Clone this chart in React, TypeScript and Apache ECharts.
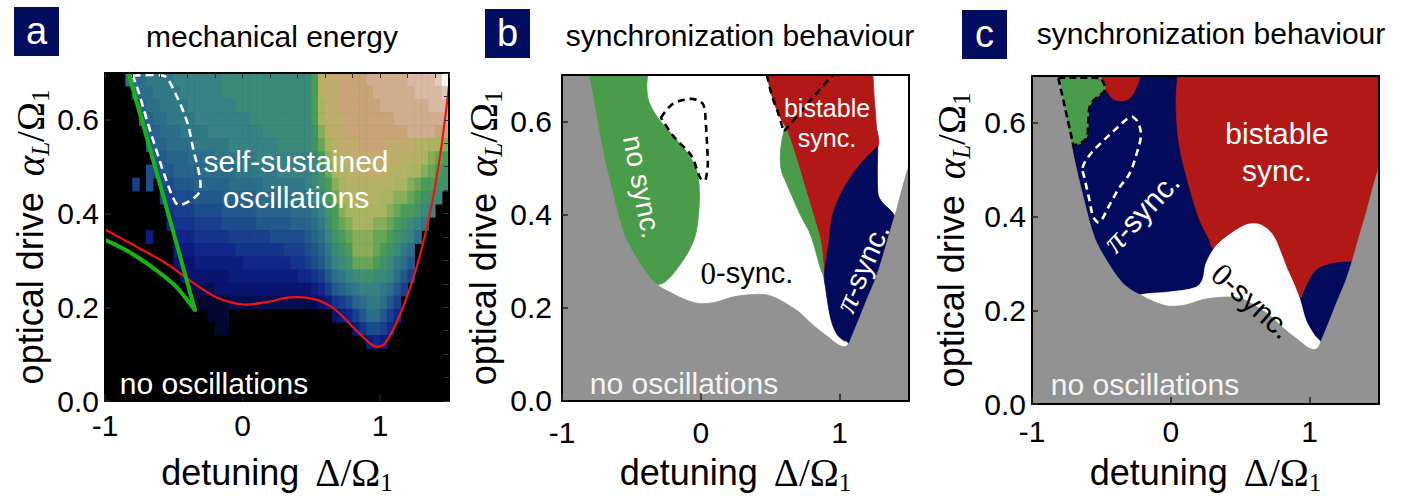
import React, { useEffect, useRef } from 'react';
import * as echarts from 'echarts';

const SANS = "'Liberation Sans', Arial, Helvetica, sans-serif";
const SERIF = "'Liberation Serif', 'DejaVu Serif', 'Times New Roman', serif";

const NAVY = '#020b5b';
const RED = '#b21815';
const GREEN = '#4b9c4a';
const GRAY = '#929292';

// ---------------- axes ----------------
const xTickValues = [-1, 0, 1];
const yTickValues = [0, 0.2, 0.4, 0.6];
const X_MIN = -1, X_MAX = 1.5, Y_MIN = 0, Y_MAX = 0.7;

// ---------------- panel a: mechanical energy (run-length rows, top row first) ----------------
const ENERGY_LEVELS = 'abcdefghijklmnopqrstuvwxyz';
const energyCellW = 0.05;
const energyCellH = 0.028;
const energyRowsRLE = [
  '.3 k3 l4 m7 n13 p t u2 v4 w6 x4 y z',
  '.4 k3 l4 m6 n13 p t u2 v5 w6 x4 y',
  '.5 j k2 l4 m7 n11 p s u2 v6 w7 x3',
  '.5 j2 k2 l4 m8 n9 p s u3 v7 w8',
  '.6 j2 k3 l4 m8 n7 o r t u2 v9 w4 v2',
  '.6 i j2 k4 l5 m7 n5 o q s t u3 v4 u4 t2 s2 r',
  '.7 i2 j3 k4 l6 m8 n p r t2 u8 t3 s r q p',
  '.6 h2 i2 j4 k5 l6 m5 n o q s t2 u5 t3 s2 r q p o',
  '.4 g . h . h2 i3 j5 k5 l6 m n o p r s t7 s2 r q p2 o2',
  '.8 g2 h3 i4 j5 k5 l3 m n p q s2 t4 s2 r2 q p o2 n .',
  '.9 f g3 h4 i5 j5 k3 l m o p r s6 r q p2 o n m .2',
  '.9 e f3 g4 h5 i5 j3 k l n p q r s3 r2 q p o n m l .3',
  '.6 d .3 e3 f5 g6 h5 i j k m o p q r3 q2 p o n m k .4',
  '.10 d3 e6 f7 g3 h i j l n o p r3 q p o n l k .5',
  '.10 c3 d7 e7 f2 g h i k m n o q3 p o n l k i .5',
  '.11 c7 d10 e2 f g i k l m n o2 n2 m k i g .5',
  '.12 b4 c14 d e g i j k l m3 l k i g .6',
  '.13 a5 b13 c d f g h j k l2 k i g .7',
  '.15 a3 .15 c d e g i k2 i g e .7',
  '.16 a2 .18 d f h2 g e .8',
  '.38 d e d .9',
];

const redOnsetCurveA = [
  [-1, 0.366], [-0.794, 0.333], [-0.552, 0.293], [-0.358, 0.252], [-0.188, 0.221],
  [0.005, 0.206], [0.175, 0.211], [0.344, 0.221], [0.514, 0.218], [0.659, 0.198],
  [0.805, 0.157], [0.926, 0.123], [0.974, 0.116], [1.035, 0.123], [1.144, 0.184],
  [1.265, 0.286], [1.362, 0.401], [1.435, 0.523], [1.5, 0.672],
];
const greenCurveA = [
  [-0.83, 0.70], [-0.59, 0.452], [-0.346, 0.194], [-0.42, 0.222], [-0.504, 0.25],
  [-0.673, 0.289], [-0.842, 0.321], [-1, 0.344],
];
const whiteLoopA = [
  [-0.80, 0.694], [-0.576, 0.694], [-0.528, 0.68], [-0.406, 0.598], [-0.358, 0.537],
  [-0.31, 0.476], [-0.31, 0.449], [-0.346, 0.435], [-0.455, 0.418], [-0.49, 0.425],
  [-0.552, 0.469], [-0.673, 0.578], [-0.77, 0.673],
];

// ---------------- panels b, c: onset of oscillations ----------------
const onsetBoundary = [
  [-0.805, 0.70], [-0.75, 0.608], [-0.70, 0.528], [-0.63, 0.44], [-0.55, 0.355],
  [-0.46, 0.305], [-0.36, 0.262], [-0.28, 0.242], [-0.215, 0.232], [-0.12, 0.218],
  [-0.02, 0.209], [0.08, 0.21], [0.15, 0.215], [0.22, 0.222], [0.30, 0.226],
  [0.38, 0.228], [0.46, 0.228], [0.53, 0.222], [0.59, 0.213], [0.65, 0.202],
  [0.71, 0.19], [0.78, 0.17], [0.85, 0.152], [0.93, 0.134], [0.98, 0.122],
  [1.03, 0.116], [1.06, 0.12], [1.08, 0.132], [1.14, 0.175], [1.20, 0.22],
  [1.26, 0.262], [1.31, 0.308], [1.36, 0.36], [1.41, 0.41], [1.45, 0.455], [1.5, 0.506],
];
const noOscRegion = [[-1, 0], [-1, 0.7], ...onsetBoundary, [1.5, 0]];

// panel b
const greenLeftB = [
  [-0.95, 0.70], [-0.382, 0.70], [-0.389, 0.675], [-0.374, 0.643], [-0.309, 0.608],
  [-0.193, 0.567], [-0.084, 0.527], [-0.025, 0.49], [-0.01, 0.44], [-0.02, 0.39],
  [-0.04, 0.355], [-0.093, 0.318], [-0.19, 0.276], [-0.25, 0.257], [-0.30, 0.25],
  [-0.36, 0.252], [-0.50, 0.29], [-0.95, 0.50],
];
const redB = [
  [0.476, 0.70], [1.24, 0.70], [1.252, 0.642], [1.265, 0.59], [1.276, 0.547],
  [1.143, 0.506], [1.022, 0.452], [0.949, 0.398], [0.925, 0.344], [0.889, 0.266],
  [0.862, 0.344], [0.804, 0.405], [0.743, 0.466], [0.682, 0.527], [0.61, 0.588],
  [0.561, 0.615], [0.513, 0.655],
];
const greenRightB = [
  [0.61, 0.591], [0.585, 0.561], [0.573, 0.527], [0.58, 0.495], [0.61, 0.472],
  [0.658, 0.439], [0.719, 0.398], [0.78, 0.364], [0.816, 0.334], [0.857, 0.289],
  [0.889, 0.266], [0.862, 0.344], [0.804, 0.405], [0.743, 0.466], [0.682, 0.527],
];
const navyB = [
  [1.276, 0.547], [1.276, 0.445], [1.31, 0.425], [1.361, 0.411], [1.42, 0.39],
  [1.46, 0.38], [1.46, 0.10], [1.10, 0.10], [1.07, 0.118], [1.055, 0.127],
  [1.03, 0.129], [0.98, 0.143], [0.94, 0.172], [0.915, 0.21], [0.898, 0.245],
  [0.889, 0.266], [0.925, 0.344], [0.949, 0.398], [1.022, 0.452], [1.143, 0.506],
];
const dashLoopB = [
  [-0.287, 0.608], [-0.214, 0.635], [-0.12, 0.647], [-0.03, 0.647], [0.02, 0.635],
  [0.035, 0.60], [0.045, 0.55], [0.05, 0.505], [0.035, 0.474], [0.005, 0.475],
  [-0.02, 0.49], [-0.069, 0.527], [-0.193, 0.567],
];
const dashVB = [
  [0.476, 0.70], [0.513, 0.655], [0.561, 0.615], [0.598, 0.578], [0.70, 0.614],
  [0.82, 0.656], [0.949, 0.70],
];

// panel c
const redBigC = [
  [0.05, 0.70], [1.5, 0.70], [1.5, 0.25], [1.2, 0.25], [1.0, 0.2], [0.931, 0.222],
  [0.80, 0.26], [0.50, 0.30], [0.31, 0.33], [0.277, 0.351], [0.205, 0.395],
  [0.133, 0.464], [0.062, 0.552], [0.038, 0.641],
];
const navyBlobC = [
  [0.90, 0.215], [0.931, 0.222], [0.979, 0.252], [1.051, 0.286], [1.171, 0.30],
  [1.303, 0.303], [1.45, 0.303], [1.45, 0.05], [0.90, 0.05],
];
const zeroSyncC = [
  [-0.30, 0.225], [-0.20, 0.234], [-0.011, 0.239], [0.182, 0.249], [0.23, 0.266],
  [0.254, 0.30], [0.326, 0.337], [0.421, 0.361], [0.50, 0.376], [0.566, 0.384],
  [0.65, 0.382], [0.734, 0.361], [0.806, 0.313], [0.835, 0.29], [0.878, 0.262],
  [0.931, 0.222], [0.974, 0.178], [1.039, 0.145], [1.075, 0.134], [1.10, 0.12],
  [1.10, 0.05], [-0.30, 0.05],
];
const redSmallC = [
  [-0.50, 0.70], [-0.492, 0.686], [-0.462, 0.668], [-0.43, 0.655], [-0.40, 0.649],
  [-0.342, 0.647], [-0.30, 0.652], [-0.265, 0.665], [-0.24, 0.682], [-0.217, 0.70],
];
const greenC = [
  [-0.95, 0.70], [-0.522, 0.70], [-0.498, 0.695], [-0.474, 0.671], [-0.534, 0.654],
  [-0.582, 0.637], [-0.594, 0.607], [-0.606, 0.569], [-0.654, 0.556], [-0.702, 0.552],
  [-0.95, 0.552],
];
const dashGreenC = [
  [-0.81, 0.696], [-0.522, 0.696], [-0.498, 0.693], [-0.474, 0.671], [-0.534, 0.654],
  [-0.582, 0.637], [-0.594, 0.607], [-0.606, 0.569], [-0.654, 0.556], [-0.702, 0.552],
];
const whiteLoopC = [
  [-0.635, 0.504], [-0.60, 0.525], [-0.534, 0.548], [-0.414, 0.582], [-0.32, 0.607],
  [-0.275, 0.613], [-0.24, 0.603], [-0.215, 0.575], [-0.25, 0.53], [-0.30, 0.49],
  [-0.37, 0.462], [-0.45, 0.42], [-0.505, 0.39], [-0.53, 0.388], [-0.56, 0.40],
  [-0.59, 0.44], [-0.62, 0.48],
];

// ---------------- derived heatmap data ----------------
function decodeRow(rle: string): string {
  return rle.split(' ').map((tok) => tok[0].repeat(tok.length > 1 ? parseInt(tok.slice(1), 10) : 1)).join('');
}
const heatData: number[][] = [];
energyRowsRLE.forEach((rle, r) => {
  const row = decodeRow(rle);
  const j = 24 - r;
  for (let i = 0; i < row.length; i++) {
    const k = ENERGY_LEVELS.indexOf(row[i]);
    if (k < 0) continue;
    heatData.push([X_MIN + energyCellW * (i + 0.5), energyCellH * (j + 0.5), k / 25]);
  }
});

const ENERGY_STOPS: [number, string][] = [
  [0, '#020830'], [0.08, '#0a1470'], [0.16, '#10268a'], [0.24, '#183f8c'], [0.32, '#22588c'],
  [0.40, '#2c6e8a'], [0.48, '#368284'], [0.54, '#3c8c74'], [0.60, '#4a9a58'], [0.66, '#78aa58'],
  [0.72, '#a8b460'], [0.78, '#bcb068'], [0.84, '#c8a478'], [0.90, '#d4b29a'], [0.96, '#e4c8bc'],
  [1, '#fbf6f6'],
];
function hex(c: string) { return [1, 3, 5].map((k) => parseInt(c.slice(k, k + 2), 16)); }
function energyColor(v: number) {
  for (let s = 1; s < ENERGY_STOPS.length; s++) {
    if (v <= ENERGY_STOPS[s][0] + 1e-9) {
      const [v0, c0] = ENERGY_STOPS[s - 1];
      const [v1, c1] = ENERGY_STOPS[s];
      const t = (v - v0) / (v1 - v0);
      const a = hex(c0), b = hex(c1);
      return `rgb(${a.map((x, q) => Math.round(x + (b[q] - x) * t)).join(',')})`;
    }
  }
  return ENERGY_STOPS[ENERGY_STOPS.length - 1][1];
}

// ---------------- rendering helpers ----------------
function buildPath(px: number[][], closed: boolean, rect: any): string {
  const n = px.length;
  const onFrame = (p: number[]) =>
    Math.abs(p[0] - rect.x) < 0.7 || Math.abs(p[0] - (rect.x + rect.width)) < 0.7 ||
    Math.abs(p[1] - rect.y) < 0.7 || Math.abs(p[1] - (rect.y + rect.height)) < 0.7;
  const tan: number[][] = [];
  for (let i = 0; i < n; i++) {
    if (!closed && (i === 0 || i === n - 1)) { tan.push([0, 0]); continue; }
    const p0 = px[(i - 1 + n) % n], p1 = px[i], p2 = px[(i + 1) % n];
    const a = [p1[0] - p0[0], p1[1] - p0[1]], b = [p2[0] - p1[0], p2[1] - p1[1]];
    const la = Math.hypot(a[0], a[1]), lb = Math.hypot(b[0], b[1]);
    let sharp = onFrame(p1) || la < 1e-6 || lb < 1e-6;
    if (!sharp) {
      const cos = (a[0] * b[0] + a[1] * b[1]) / (la * lb);
      if (cos < Math.cos((68 * Math.PI) / 180)) sharp = true;
    }
    if (sharp) tan.push([0, 0]);
    else {
      const dx = p2[0] - p0[0], dy = p2[1] - p0[1];
      const l = Math.hypot(dx, dy) || 1;
      tan.push([dx / l, dy / l]);
    }
  }
  let d = `M${px[0][0]},${px[0][1]}`;
  const segs = closed ? n : n - 1;
  for (let i = 0; i < segs; i++) {
    const p1 = px[i], p2 = px[(i + 1) % n];
    const L = Math.hypot(p2[0] - p1[0], p2[1] - p1[1]) / 3;
    const t1 = tan[i], t2 = tan[(i + 1) % n];
    d += ` C${p1[0] + t1[0] * L},${p1[1] + t1[1] * L} ${p2[0] - t2[0] * L},${p2[1] - t2[1] * L} ${p2[0]},${p2[1]}`;
  }
  if (closed) d += ' Z';
  return d;
}

function shapeSeries(gi: number, pts: number[][], o: any, z: number) {
  return {
    type: 'custom', xAxisIndex: gi, yAxisIndex: gi, z, clip: true, silent: true,
    data: pts,
    renderItem: (params: any, api: any) => {
      if (params.dataIndex !== 0) return null;
      const px = pts.map((p) => api.coord(p));
      const d = buildPath(px, o.closed, params.coordSys);
      return {
        type: 'path',
        shape: { pathData: d },
        style: {
          fill: o.fill || 'none',
          stroke: o.stroke || (o.fill ? o.fill : 'none'),
          lineWidth: o.lineWidth != null ? o.lineWidth : (o.fill ? 0.8 : 0),
          lineDash: o.dash || null,
          lineJoin: 'round',
          lineCap: 'butt',
        },
      };
    },
  };
}

const panels = [
  { left: 105, top: 73, width: 344, height: 344, bg: '#000', yLabelMargin: 6, xLabelMargin: 9, xNameGap: 48, yNameGap: 46 },
  { left: 562, top: 75, width: 347, height: 344, bg: '#fff', yLabelMargin: 10, xLabelMargin: 17, xNameGap: 46, yNameGap: 56 },
  { left: 1032, top: 76, width: 347, height: 344, bg: NAVY, yLabelMargin: 6, xLabelMargin: 12, xNameGap: 45, yNameGap: 58 },
];

const nameRich = {
  tp: { fontSize: 36, fontFamily: SANS, color: '#000', lineHeight: 46, padding: [0, 16, 0, 0] },
  mi: { fontSize: 39, fontFamily: SERIF, fontStyle: 'italic', color: '#000', lineHeight: 46 },
  m: { fontSize: 39, fontFamily: SERIF, color: '#000', lineHeight: 46 },
  si: { fontSize: 25, fontFamily: SERIF, fontStyle: 'italic', color: '#000', verticalAlign: 'bottom', lineHeight: 46 },
  s: { fontSize: 25, fontFamily: SERIF, color: '#000', verticalAlign: 'bottom', lineHeight: 46 },
};

function buildOption() {
  const grid = panels.map((p) => ({
    left: p.left, top: p.top, width: p.width, height: p.height,
    show: true, backgroundColor: p.bg, borderWidth: 0,
  }));
  const xAxis: any[] = [];
  const yAxis: any[] = [];
  panels.forEach((p, gi) => {
    xAxis.push({
      type: 'value', gridIndex: gi, position: 'bottom', min: X_MIN, max: X_MAX, interval: 1, z: 10,
      axisLine: { show: true, onZero: false, lineStyle: { color: '#000', width: 2 } },
      axisTick: { show: true, inside: true, length: 7, lineStyle: { color: '#222', width: 1.5 } },
      axisLabel: {
        show: true, margin: p.xLabelMargin, fontSize: 30, fontFamily: SANS, color: '#000', showMaxLabel: false,
        formatter: (v: number) => (xTickValues.some((t) => Math.abs(t - v) < 1e-9) ? String(Math.round(v)) : ''),
      },
      splitLine: { show: false },
      name: '{tp|detuning}{m|Δ/Ω}{s|1}', nameLocation: 'middle', nameGap: p.xNameGap,
      nameTextStyle: { fontSize: 36, fontFamily: SANS, color: '#000', rich: nameRich },
    });
    yAxis.push({
      type: 'value', gridIndex: gi, position: 'left', min: Y_MIN, max: Y_MAX, interval: 0.2, z: 10,
      axisLine: { show: true, onZero: false, lineStyle: { color: '#000', width: 2 } },
      axisTick: { show: true, inside: true, length: 6, lineStyle: { color: '#222', width: 1.5 } },
      axisLabel: {
        show: true, margin: p.yLabelMargin, fontSize: 30, fontFamily: SANS, color: '#000', showMaxLabel: false,
        formatter: (v: number) => (yTickValues.some((t) => Math.abs(t - v) < 1e-9) ? v.toFixed(1) : ''),
      },
      splitLine: { show: false },
      name: '{tp|optical drive}{mi|α}{si|L}{m|/Ω}{s|1}', nameLocation: 'middle', nameRotate: 90, nameGap: p.yNameGap,
      nameTextStyle: { fontSize: 36, fontFamily: SANS, color: '#000', rich: nameRich },
    });
  });
  panels.forEach((p, gi) => {
    xAxis.push({
      type: 'value', gridIndex: gi, position: 'top', min: X_MIN, max: X_MAX, interval: gi === 0 ? 0.2 : 1, z: 10,
      axisLine: { show: true, onZero: false, lineStyle: { color: '#000', width: 2 } },
      axisTick: { show: gi === 0, inside: true, length: 5, lineStyle: { color: '#333', width: 1 } },
      axisLabel: { show: false }, splitLine: { show: false },
    });
    yAxis.push({
      type: 'value', gridIndex: gi, position: 'right', min: Y_MIN, max: Y_MAX, interval: gi === 0 ? 0.05 : 0.2, z: 10,
      axisLine: { show: true, onZero: false, lineStyle: { color: '#000', width: 2 } },
      axisTick: { show: gi === 0, inside: true, length: 5, lineStyle: { color: '#333', width: 1 } },
      axisLabel: { show: false }, splitLine: { show: false },
    });
  });

  const series: any[] = [];
  // panel a heatmap
  series.push({
    type: 'custom', xAxisIndex: 0, yAxisIndex: 0, z: 1, clip: true, silent: true,
    data: heatData,
    renderItem: (params: any, api: any) => {
      const x = api.value(0), y = api.value(1), v = api.value(2);
      const p0 = api.coord([x - energyCellW / 2, y + energyCellH / 2]);
      const p1 = api.coord([x + energyCellW / 2, y - energyCellH / 2]);
      return {
        type: 'rect',
        shape: { x: p0[0] - 0.3, y: p0[1] - 0.3, width: p1[0] - p0[0] + 0.6, height: p1[1] - p0[1] + 0.6 },
        style: { fill: energyColor(v) },
      };
    },
  });
  series.push(shapeSeries(0, whiteLoopA, { closed: true, stroke: '#fff', lineWidth: 2.6, dash: [8, 5] }, 3));
  series.push(shapeSeries(0, redOnsetCurveA, { closed: false, stroke: '#f21212', lineWidth: 2.2 }, 4));
  series.push(shapeSeries(0, greenCurveA, { closed: false, stroke: '#16b416', lineWidth: 4 }, 5));

  // panel b
  series.push(shapeSeries(1, greenLeftB, { closed: true, fill: GREEN }, 2));
  series.push(shapeSeries(1, redB, { closed: true, fill: RED }, 2));
  series.push(shapeSeries(1, greenRightB, { closed: true, fill: GREEN }, 3));
  series.push(shapeSeries(1, navyB, { closed: true, fill: NAVY }, 3));
  series.push(shapeSeries(1, noOscRegion, { closed: true, fill: GRAY }, 4));
  series.push(shapeSeries(1, dashLoopB, { closed: true, stroke: '#000', lineWidth: 2.6, dash: [7, 5] }, 5));
  series.push(shapeSeries(1, dashVB, { closed: false, stroke: '#000', lineWidth: 2.6, dash: [7, 5] }, 5));

  // panel c
  series.push(shapeSeries(2, redBigC, { closed: true, fill: RED }, 2));
  series.push(shapeSeries(2, navyBlobC, { closed: true, fill: NAVY }, 3));
  series.push(shapeSeries(2, zeroSyncC, { closed: true, fill: '#fff' }, 3));
  series.push(shapeSeries(2, redSmallC, { closed: true, fill: RED }, 3));
  series.push(shapeSeries(2, greenC, { closed: true, fill: GREEN }, 3));
  series.push(shapeSeries(2, noOscRegion, { closed: true, fill: GRAY }, 4));
  series.push(shapeSeries(2, dashGreenC, { closed: true, stroke: '#000', lineWidth: 2.6, dash: [7, 4] }, 5));
  series.push(shapeSeries(2, whiteLoopC, { closed: true, stroke: '#fff', lineWidth: 2.6, dash: [7, 5] }, 5));

  const txt = (text: string, x: number, y: number, size: number, color: string, rot = 0, rich?: any) => ({
    type: 'text', x, y, rotation: rot, silent: true, z: 100,
    style: {
      text, fill: color, fontSize: size, fontFamily: SANS,
      align: 'center', verticalAlign: 'middle', textAlign: 'center', textVerticalAlign: 'middle',
      rich,
    },
  });
  const zeroRich = (size: number) => ({ m: { fontFamily: SERIF, fontSize: size + 2 } });
  const piRich = (size: number) => ({ p: { fontFamily: SERIF, fontStyle: 'italic', fontSize: size + 3 } });
  const box = (x: number, y: number, letter: string) => [
    { type: 'rect', silent: true, z: 100, shape: { x, y, width: 45, height: 49 }, style: { fill: '#030d5f' } },
    txt(letter, x + 22.5, y + 24, 38, '#fff'),
  ];

  const graphic = [
    ...box(14, 7, 'a'),
    ...box(485, 9, 'b'),
    ...box(962, 10, 'c'),
    txt('mechanical energy', 272, 36, 30, '#000'),
    txt('synchronization behaviour', 740, 35, 30, '#000'),
    txt('synchronization behaviour', 1211, 33, 30, '#000'),
    // a
    txt('self-sustained', 296, 161, 30, '#fff'),
    txt('oscillations', 296, 197, 30, '#fff'),
    txt('no oscillations', 214, 383, 30, '#fff'),
    // b
    txt('no sync.', 642, 187, 28, '#fff', -1.38),
    txt('{m|0}-sync.', 747, 273, 29, '#000', 0, zeroRich(29)),
    txt('bistable', 827, 108, 25, '#fff'),
    txt('sync.', 827, 138, 25, '#fff'),
    txt('{p|π}-sync.', 862, 268, 29, '#fff', 1.15, piRich(29)),
    txt('no oscillations', 684, 383, 30, '#f4f4f4'),
    // c
    txt('bistable', 1277, 133, 30, '#fff'),
    txt('sync.', 1277, 170, 30, '#fff'),
    txt('{p|π}-sync.', 1141, 212, 30, '#fff', 0.82, piRich(30)),
    txt('{m|0}-sync.', 1252, 301, 30, '#000', -0.73, zeroRich(30)),
    txt('no oscillations', 1145, 384, 30, '#f4f4f4'),
  ];

  return {
    animation: false,
    backgroundColor: '#fff',
    grid, xAxis, yAxis, series,
    graphic: { elements: graphic },
  };
}

export default function App() {
  const ref = useRef<HTMLDivElement>(null);
  useEffect(() => {
    if (!ref.current) return;
    const chart = echarts.init(ref.current, null, { renderer: 'svg' });
    chart.setOption(buildOption() as any);
    return () => chart.dispose();
  }, []);
  return (
    <div
      ref={ref}
      style={{ position: 'absolute', left: 0, top: 0, width: 1406, height: 500, background: '#fff' }}
    />
  );
}
